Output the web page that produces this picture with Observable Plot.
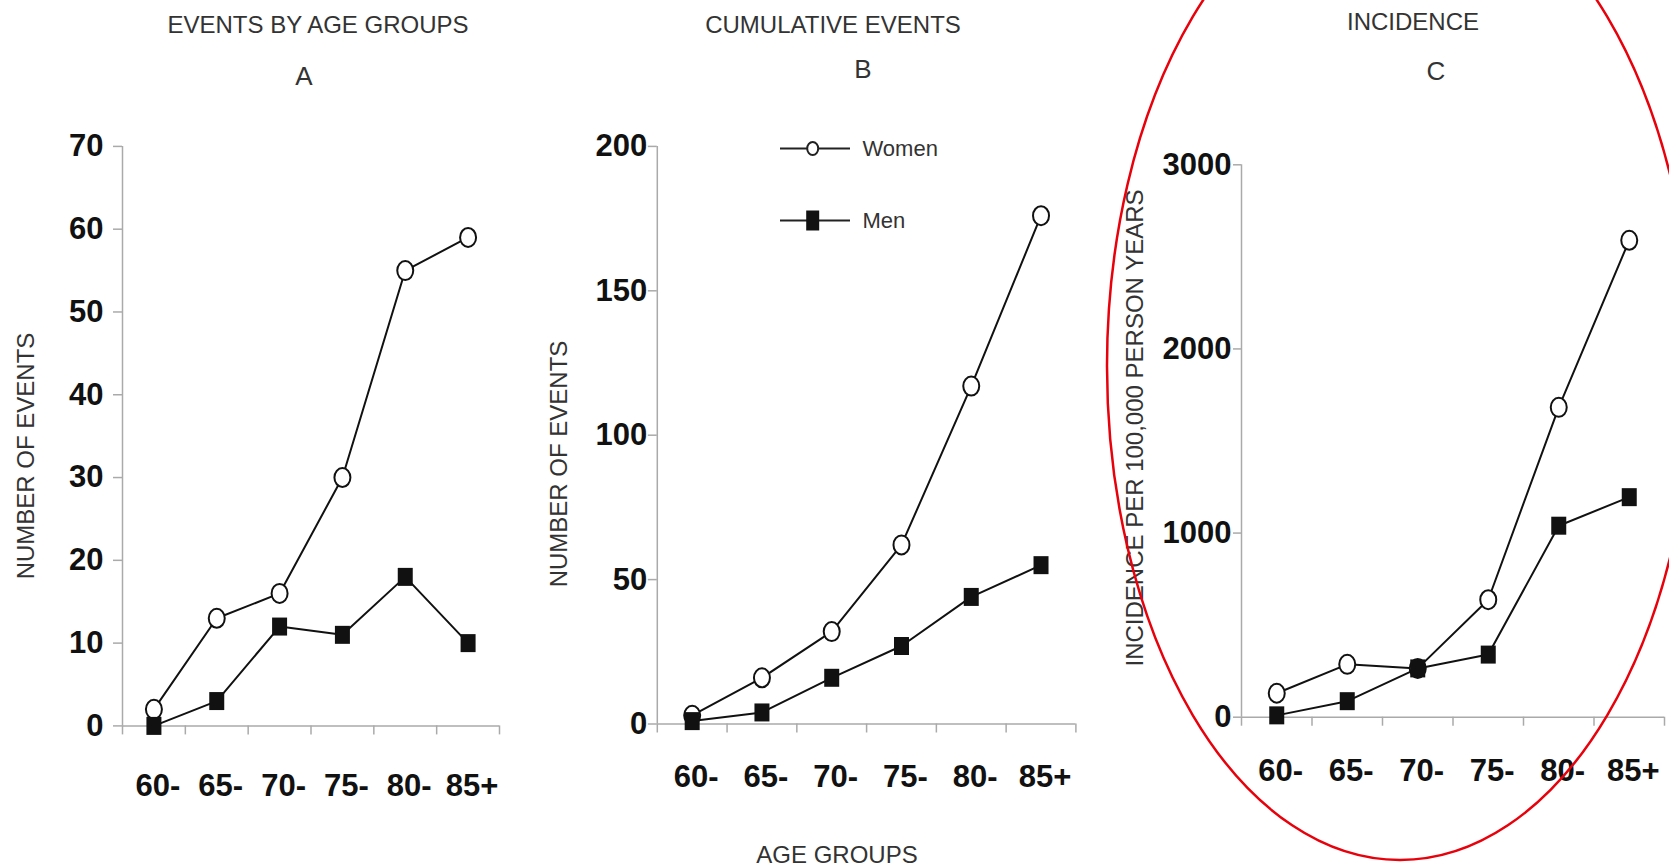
<!DOCTYPE html>
<html><head><meta charset="utf-8">
<script src="https://cdn.jsdelivr.net/npm/d3@7"></script>
<script src="https://cdn.jsdelivr.net/npm/@observablehq/plot@0.6"></script>
<style>
body{margin:0;background:#fff;}
#fig{position:relative;width:1669px;height:867px;overflow:hidden;background:#fff;font-family:"Liberation Sans",Arial,Helvetica,sans-serif;}
.abs{position:absolute;}
.t{position:absolute;transform:translateX(-50%);white-space:nowrap;color:#333;font-size:24px;line-height:24px;}
.rot{position:absolute;white-space:nowrap;color:#333;font-size:24px;line-height:24px;transform:translate(-50%,-50%) rotate(-90deg);}
</style></head><body><div id="fig"></div>
<script>
const ageGroups = ["60-","65-","70-","75-","80-","85+"];
const seriesNames = ["Women","Men"];
const womenEvents = [2,13,16,30,55,59];
const menEvents = [0,3,12,11,18,10];
const womenCumulative = [3,16,32,62,117,176];
const menCumulative = [1,4,16,27,44,55];
const womenIncidence = [130,287,265,638,1683,2590];
const menIncidence = [10,87,265,340,1040,1195];
const ticksA = [0,10,20,30,40,50,60,70];
const ticksB = [0,50,100,150,200];
const ticksC = [0,1000,2000,3000];
const titles = ["EVENTS BY AGE GROUPS","CUMULATIVE EVENTS","INCIDENCE"];
const letters = ["A","B","C"];
const yTitles = ["NUMBER OF EVENTS","NUMBER OF EVENTS","INCIDENCE PER 100,000 PERSON YEARS"];
const xTitle = "AGE GROUPS";

const FONT = '"Liberation Sans", Arial, Helvetica, sans-serif';
const INK = "#111";
const AXIS = "#aaa";
const fig = document.getElementById("fig");

function ellipseSymbol(rx, ry){
  const k = 0.5523;
  return {draw(ctx){
    ctx.moveTo(rx,0);
    ctx.bezierCurveTo(rx,ry*k,rx*k,ry,0,ry);
    ctx.bezierCurveTo(-rx*k,ry,-rx,ry*k,-rx,0);
    ctx.bezierCurveTo(-rx,-ry*k,-rx*k,-ry,0,-ry);
    ctx.bezierCurveTo(rx*k,-ry,rx,-ry*k,rx,0);
    ctx.closePath();
  }};
}
function rectSymbol(w,h){ return {draw(ctx){ ctx.rect(-w/2,-h/2,w,h); }}; }

function place(el, left, top){
  const d = document.createElement("div");
  d.className = "abs";
  d.style.left = left + "px"; d.style.top = top + "px";
  d.appendChild(el); fig.appendChild(d);
}

function panel(o){
  const rows = ageGroups.map((g,i)=>({g, pos:i+0.5, women:o.women[i], men:o.men[i]}));
  const yMax = o.ticks[o.ticks.length-1];
  return Plot.plot({
    width:o.width, height:867,
    marginLeft:o.ml, marginRight:o.mr, marginTop:o.mt, marginBottom:o.mb,
    style:{background:"transparent", overflow:"visible", fontFamily:FONT},
    x:{type:"linear", domain:[0, ageGroups.length], axis:null, label:null},
    y:{domain:[0, yMax], axis:null, label:null},
    marks:[
      Plot.ruleY([0], {stroke:AXIS, strokeWidth:1.5}),
      Plot.ruleX([0], {stroke:AXIS, strokeWidth:1.5}),
      Plot.axisX(d3.range(ageGroups.length+1), {tickSize:9, tickFormat:()=>"", label:null, stroke:AXIS, strokeWidth:1.5}),
      Plot.axisX(rows.map(r=>r.pos), {tickSize:0, tickPadding:o.xPad, label:null, tickFormat:v=>ageGroups[Math.floor(v)], fontSize:31, fontWeight:"bold", fill:INK, dx:4}),
      Plot.axisY(o.ticks, {tickSize:o.ts, tickPadding:o.tp, label:null, fontSize:31, fontWeight:"bold", stroke:AXIS, strokeWidth:1.5, fill:INK, tickFormat:d=>String(d)}),
      Plot.line(rows, {x:"pos", y:"women", stroke:INK, strokeWidth:2}),
      Plot.line(rows, {x:"pos", y:"men", stroke:INK, strokeWidth:2}),
      Plot.dot(rows, {x:"pos", y:"women", symbol:ellipseSymbol(8,9.5), fill:"white", stroke:INK, strokeWidth:2}),
      Plot.dot(rows, {x:"pos", y:"men", symbol:rectSymbol(15,18), fill:INK})
    ]
  });
}

place(panel({width:520, ml:122, mr:21, mt:145.9, mb:141.6, ticks:ticksA, women:womenEvents, men:menEvents, ts:9, tp:10, xPad:48}), 0, 0);
place(panel({width:560, ml:136.8, mr:4.6, mt:145.9, mb:143.5, ticks:ticksB, women:womenCumulative, men:menCumulative, ts:9, tp:1, xPad:41}), 520, 0);
place(panel({width:589, ml:161, mr:5, mt:164.3, mb:150.3, ticks:ticksC, women:womenIncidence, men:menIncidence, ts:8, tp:2, xPad:42}), 1080, 0);

// legend
const legend = Plot.plot({
  width:200, height:130, marginLeft:0, marginRight:130, marginTop:28, marginBottom:30,
  style:{background:"transparent", overflow:"visible", fontFamily:FONT},
  x:{domain:[0,1], axis:null},
  y:{type:"point", domain:seriesNames, padding:0, axis:null},
  marks:[
    Plot.ruleY(seriesNames, {y:d=>d, x1:0, x2:1, stroke:"#222", strokeWidth:2}),
    Plot.dot([seriesNames[0]], {x:0.46, y:d=>d, symbol:ellipseSymbol(5.5,6.5), fill:"white", stroke:"#222", strokeWidth:2}),
    Plot.dot([seriesNames[1]], {x:0.46, y:d=>d, symbol:rectSymbol(13,20), fill:"#111"}),
    Plot.text(seriesNames, {x:1, y:d=>d, text:d=>d, textAnchor:"start", dx:12, fontSize:22, fill:"#333"})
  ]
});
place(legend, 780, 120);

// titles
function addText(cls, txt, left, top, extra){
  const d = document.createElement("div");
  d.className = cls; d.textContent = txt;
  d.style.left = left + "px"; d.style.top = top + "px";
  if (extra) Object.assign(d.style, extra);
  fig.appendChild(d);
}
addText("t", titles[0], 318, 12.7);
addText("t", titles[1], 833, 12.7);
addText("t", titles[2], 1413, 9.7);
addText("t", letters[0], 304, 63, {fontSize:26+"px", lineHeight:26+"px"});
addText("t", letters[1], 863, 56, {fontSize:26+"px", lineHeight:26+"px"});
addText("t", letters[2], 1436, 58, {fontSize:26+"px", lineHeight:26+"px"});
addText("t", xTitle, 837, 842.7);
addText("rot", yTitles[0], 26, 456);
addText("rot", yTitles[1], 559, 464);
addText("rot", yTitles[2], 1135, 428);

// red annotation ellipse
const ns = "http://www.w3.org/2000/svg";
const ov = document.createElementNS(ns, "svg");
ov.setAttribute("width", 1669); ov.setAttribute("height", 867);
ov.setAttribute("class", "abs");
ov.style.left = "0px"; ov.style.top = "0px"; ov.style.pointerEvents = "none";
const el = document.createElementNS(ns, "ellipse");
el.setAttribute("cx", 1400); el.setAttribute("cy", 366); el.setAttribute("rx", 293); el.setAttribute("ry", 494);
el.setAttribute("fill", "none"); el.setAttribute("stroke", "#e8000b"); el.setAttribute("stroke-width", 2.5);
ov.appendChild(el);
fig.appendChild(ov);
</script></body></html>
